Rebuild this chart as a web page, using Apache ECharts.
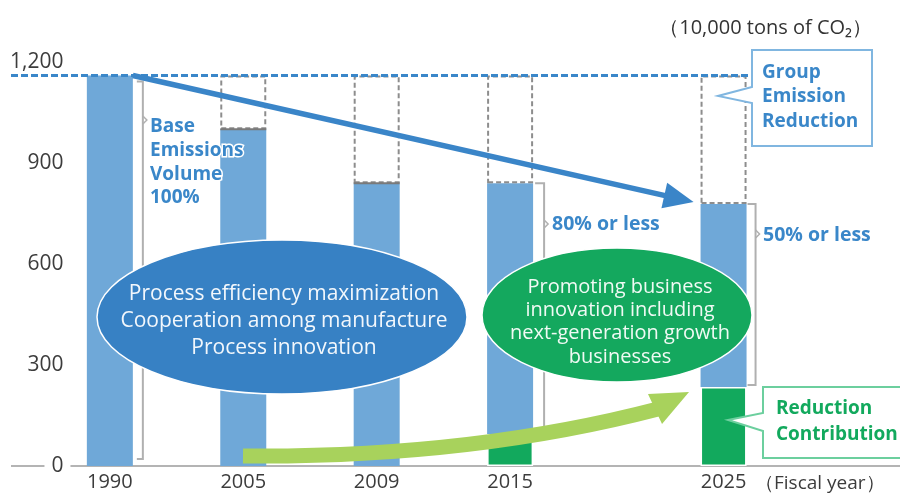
<!DOCTYPE html>
<html>
<head>
<meta charset="utf-8">
<script src="https://cdn.jsdelivr.net/npm/echarts@6/dist/echarts.min.js"></script>
<style>html,body{margin:0;padding:0;background:#fff}#c{width:900px;height:493px}</style>
</head>
<body>
<div id="c"></div>
<script>
// ---- data ----
const years = ['1990', '2005', '2009', '2015', '2025'];
const baseLevel = 1160;                       // base emissions volume (1990)
const emissions = [1160, 1000, 840, 840, 778]; // total emissions
const contribution = [0, 0, 0, 95, 235];       // reduction contribution
const yMin = 0, yMax = 1200, yStep = 300;
const unitText = '（10,000 tons of CO₂）';
const xUnitText = '（Fiscal year）';

// ---- layout (category slots) ----
const slotIndex = [3, 8, 13, 18, 26];
const slotCount = 33;
const categories = Array.from({length: slotCount}, (_, i) => {
  const k = slotIndex.indexOf(i);
  return k >= 0 ? years[k] : 'gap' + i;
});
const FONT = 'Open Sans';
const BLUE_TXT = '#3a87c9';
const GREEN = '#12a95d';
const barW = 46;

const chart = echarts.init(document.getElementById('c'), null, {renderer: 'canvas'});
const nz = v => (v > 0 ? v : '-');

chart.setOption({
  animation: false,
  grid: {left: 16, right: 3, top: 62, bottom: 27, containLabel: false},
  xAxis: {
    type: 'category', data: categories, boundaryGap: true,
    axisLine: {show: false}, axisTick: {show: false}, splitLine: {show: false},
    axisLabel: {interval: 0, margin: 6, color: '#3c3c3c', fontSize: 20, fontFamily: FONT,
      formatter: v => (years.indexOf(v) >= 0 ? v : '')}
  },
  yAxis: {
    type: 'value', min: yMin, max: yMax, interval: yStep, z: 5,
    axisLine: {show: false}, axisTick: {show: false}, splitLine: {show: false},
    axisLabel: {margin: -54, align: 'right', color: '#3c3c3c', fontSize: 21, fontFamily: FONT,
      backgroundColor: '#fff', padding: [0, 7, 0, 7],
      formatter: v => v.toLocaleString('en-US')}
  },
  series: [
    {type: 'bar', stack: 's', barWidth: barW, z: 2,
      itemStyle: {color: GREEN, borderColor: '#fff', borderWidth: 1.5},
      data: years.map((y, i) => [y, nz(contribution[i])])},
    {type: 'bar', stack: 's', barWidth: barW, z: 2,
      itemStyle: {color: '#6fa8d8'},
      data: years.map((y, i) => [y, emissions[i] - contribution[i]])},
    {type: 'bar', stack: 's', barWidth: barW, z: 2,
      itemStyle: {color: 'rgba(0,0,0,0)', borderColor: '#8d8d8d', borderWidth: 2, borderType: [5, 3]},
      data: years.map((y, i) => [y, nz(baseLevel - emissions[i])])}
  ]
});

function px(cat, v) { return chart.convertToPixel({gridIndex: 0}, [cat, v]); }

const y0 = px(years[0], 0)[1];
const yBase = px(years[0], baseLevel)[1];
const hb = barW / 2;
const g = [];

// baseline
g.push({type: 'line', z: 1, shape: {x1: 11, y1: y0, x2: 900, y2: y0}, style: {stroke: '#b4b4b4', lineWidth: 2}});

// solid bottom of the dashed boxes for 2005 and 2009
[1, 2].forEach(i => {
  const p = px(years[i], emissions[i]);
  g.push({type: 'line', z: 9, shape: {x1: p[0] - hb, y1: p[1], x2: p[0] + hb, y2: p[1]}, style: {stroke: '#7a7a7a', lineWidth: 2}});
});

// base level dashed line
g.push({type: 'line', z: 10, shape: {x1: 11, y1: yBase, x2: 752, y2: yBase},
  style: {stroke: '#3a87c9', lineWidth: 3, lineDash: [7, 3]}});

// blue trend arrow
{
  const s = px(years[0], baseLevel); const e = px(years[4], emissions[4]);
  const x1 = s[0] + hb, y1 = s[1], x2 = e[0] - hb - 7, y2 = e[1] - 2;
  const dx = x2 - x1, dy = y2 - y1, L = Math.hypot(dx, dy), ux = dx / L, uy = dy / L;
  const hl = 30, hw = 13;
  const bx = x2 - ux * hl, by = y2 - uy * hl;
  g.push({type: 'line', z: 11, shape: {x1: x1, y1: y1, x2: bx + ux * 2, y2: by + uy * 2}, style: {stroke: '#3a85c8', lineWidth: 5.5}});
  g.push({type: 'polygon', z: 11, shape: {points: [[x2, y2], [bx - uy * hw, by + ux * hw], [bx + uy * hw, by - ux * hw]]}, style: {fill: '#3a85c8'}});
}

// green curved arrow
g.push({type: 'bezierCurve', z: 11, shape: {x1: 243, y1: 456, cpx1: 470, cpy1: 458, x2: 658, y2: 409},
  style: {stroke: '#a8d25c', lineWidth: 15, fill: null}});
g.push({type: 'polygon', z: 11, shape: {points: [[689, 392], [648, 394], [662, 424]]}, style: {fill: '#a8d25c'}});

// ellipses
g.push({type: 'ellipse', z: 12, shape: {cx: 282, cy: 317, rx: 185, ry: 77}, style: {fill: '#3781c4', stroke: '#fff', lineWidth: 1.5}});
g.push({type: 'text', z: 13, style: {x: 284, y: 321, text: 'Process efficiency maximization\nCooperation among manufacture\nProcess innovation',
  fill: '#f2f7fc', font: '21px "Open Sans"', align: 'center', verticalAlign: 'middle', lineHeight: 27}});
g.push({type: 'ellipse', z: 12, shape: {cx: 617, cy: 315, rx: 135, ry: 67}, style: {fill: '#14a85e', stroke: '#fff', lineWidth: 1.5}});
g.push({type: 'text', z: 13, style: {x: 620, y: 322, text: 'Promoting business\ninnovation including\nnext-generation growth\nbusinesses',
  fill: '#f0faf4', font: '20px "Open Sans"', align: 'center', verticalAlign: 'middle', lineHeight: 23.3}});

// brackets
function bracket(xv, yt, yb, yn, left) {
  g.push({type: 'polyline', z: 10, shape: {points: [[xv - left, yt], [xv, yt], [xv, yb], [xv - left, yb]]}, style: {stroke: '#b0b0b0', lineWidth: 2, fill: null}});
  g.push({type: 'polyline', z: 10, shape: {points: [[xv, yn - 4], [xv + 4, yn], [xv, yn + 4]]}, style: {stroke: '#b0b0b0', lineWidth: 1.5, fill: null}});
}
{
  const p0 = px(years[0], baseLevel);
  bracket(p0[0] + hb + 10, yBase + 6, y0 - 7, 120, 6);
  const p3 = px(years[3], emissions[3]); const p3b = px(years[3], contribution[3]);
  bracket(p3[0] + hb + 11, p3[1], p3b[1] - 2, 224, 9);
  const p4 = px(years[4], emissions[4]); const p4b = px(years[4], contribution[4]);
  bracket(p4[0] + hb + 9, p4[1], p4b[1] - 2, 234, 8);
}

const boldBlue = 'bold 19px "Open Sans"';
g.push({type: 'text', z: 13, style: {x: 150, y: 115, text: 'Base\nEmissions\nVolume\n100%', fill: BLUE_TXT, font: boldBlue,
  lineHeight: 23.7, align: 'left', verticalAlign: 'top', stroke: '#fff', lineWidth: 3}});
g.push({type: 'text', z: 13, style: {x: 552, y: 224, text: '80% or less', fill: BLUE_TXT, font: 'bold 19.5px "Open Sans"', align: 'left', verticalAlign: 'middle'}});
g.push({type: 'text', z: 13, style: {x: 763, y: 235, text: '50% or less', fill: BLUE_TXT, font: 'bold 19.5px "Open Sans"', align: 'left', verticalAlign: 'middle'}});

// callouts
g.push({type: 'polygon', z: 14, shape: {points: [[752, 50], [872, 50], [872, 146], [752, 146], [752, 103], [718, 96], [752, 87]]},
  style: {fill: '#fff', stroke: '#80b6e0', lineWidth: 2}});
g.push({type: 'text', z: 15, style: {x: 762, y: 60, text: 'Group\nEmission\nReduction', fill: BLUE_TXT, font: boldBlue, lineHeight: 24.5, align: 'left', verticalAlign: 'top'}});
g.push({type: 'polygon', z: 14, shape: {points: [[763, 387], [912, 387], [912, 458], [763, 458], [763, 431], [728, 420], [763, 413]]},
  style: {fill: '#fff', stroke: '#6ccf9e', lineWidth: 2}});
g.push({type: 'text', z: 15, style: {x: 776, y: 396, text: 'Reduction\nContribution', fill: GREEN, font: boldBlue, lineHeight: 26, align: 'left', verticalAlign: 'top'}});

// unit labels
g.push({type: 'text', z: 15, style: {x: 872, y: 28, text: unitText, fill: '#333', font: '20px "Open Sans"', align: 'right', verticalAlign: 'middle'}});
g.push({type: 'text', z: 15, style: {x: 755, y: 484, text: xUnitText, fill: '#3c3c3c', font: '19px "Open Sans"', align: 'left', verticalAlign: 'middle'}});

chart.setOption({graphic: {elements: g}});
</script>
</body>
</html>
